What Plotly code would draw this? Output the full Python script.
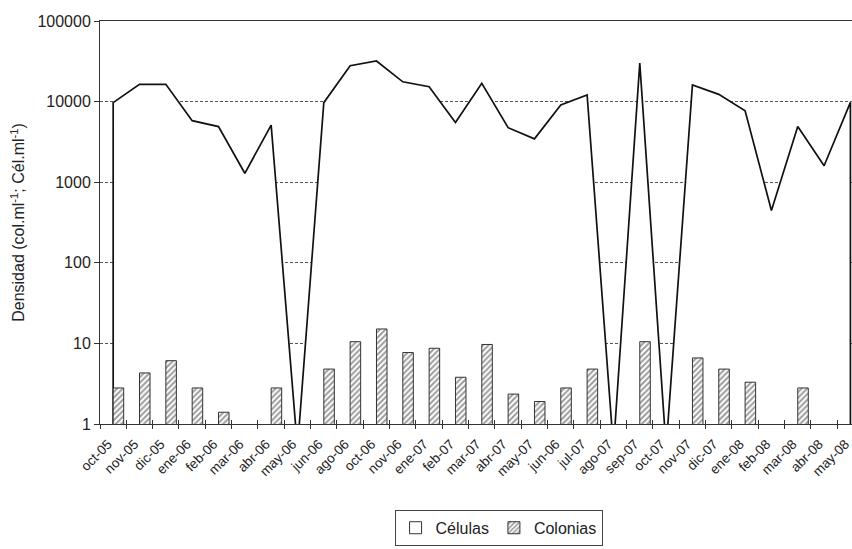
import plotly.graph_objects as go

# ---- data ----
meses = ["oct-05", "nov-05", "dic-05", "ene-06", "feb-06", "mar-06", "abr-06", "may-06",
         "jun-06", "ago-06", "oct-06", "nov-06", "ene-07", "feb-07", "mar-07", "abr-07",
         "may-07", "jun-06", "jul-07", "ago-07", "sep-07", "oct-07", "nov-07", "dic-07",
         "ene-08", "feb-08", "mar-08", "abr-08", "may-08"]

celulas = [9700, 16400, 16400, 5800, 4900, 1290, 5100, 0,
           9700, 27900, 31900, 17600, 15300, 5500, 16900, 4750,
           3450, 9100, 12100, 0, 30000, 0, 16100, 12300,
           7700, 445, 4900, 1600, 9800]

colonias = [2.8, 4.3, 6.1, 2.8, 1.4, 0, 2.8, 0,
            4.8, 10.5, 15.1, 7.7, 8.7, 3.8, 9.7, 2.35,
            1.9, 2.8, 4.8, 0, 10.5, 0, 6.6, 4.8,
            3.3, 0, 2.8, 0, 0]

y_ticks = [1, 10, 100, 1000, 10000, 100000]
y_ticktext = ["1", "10", "100", "1000", "10000", "100000"]

FLOOR = 0.5  # where zero values are drawn on the log scale (below the axis)

idx = list(range(len(meses)))
cel_plot = [v if v > 0 else FLOOR for v in celulas]
area_x = [idx[0]] + idx + [idx[-1]]
area_y = [FLOOR] + cel_plot + [FLOOR]
col_plot = [v if v > 0 else None for v in colonias]
bounds = [i - 0.5 for i in idx] + [idx[-1] + 0.5]

FONT = "Liberation Sans, Arial, sans-serif"

fig = go.Figure()

# Células as a white-filled area (hides the gridlines beneath it)
fig.add_trace(go.Scatter(
    x=area_x, y=area_y, mode="lines", fill="toself", fillcolor="white",
    line=dict(color="#111111", width=1.7), showlegend=False, hoverinfo="skip",
    xaxis="x", yaxis="y"))

# legend swatch for Células
fig.add_trace(go.Bar(
    x=idx, y=[None] * len(idx), name="Células",
    marker=dict(color="white", line=dict(color="#333333", width=1)),
    xaxis="x2", yaxis="y"))

# Colonias bars (hatched)
fig.add_trace(go.Bar(
    x=idx, y=col_plot, name="Colonias", width=0.4,
    marker=dict(color="white", line=dict(color="#333333", width=1),
                pattern=dict(shape="/", fgcolor="#3a3a3a", bgcolor="white",
                             size=4, solidity=0.5)),
    xaxis="x2", yaxis="y"))

xr = [-0.5, 28.06]

fig.update_layout(
    width=852, height=549,
    margin=dict(l=100, r=0, t=21, b=125),
    paper_bgcolor="white", plot_bgcolor="white",
    font=dict(family=FONT, size=16, color="#222222"),
    showlegend=True,
    legend=dict(orientation="h", x=0.53, xanchor="center", y=-0.213, yanchor="top",
                bordercolor="#444444", borderwidth=1, font=dict(size=16),
                traceorder="normal"),
    xaxis=dict(
        range=xr, tickmode="array", tickvals=idx, ticktext=meses,
        tickangle=-45, tickfont=dict(size=13.5), ticks="", automargin=False,
        ticklabelstandoff=6, ticklabelshift=-5, ticklabeloverflow="allow",
        showgrid=False, zeroline=False,
        showline=True, linecolor="#333333", linewidth=1, mirror=True,
        minor=dict(tickmode="array", tickvals=bounds, ticks="outside",
                   ticklen=4, tickcolor="#333333", tickwidth=1, showgrid=False),
    ),
    xaxis2=dict(
        range=xr, overlaying="x", anchor="y", tickmode="array", tickvals=bounds,
        ticks="inside", ticklen=4, tickcolor="#333333", showticklabels=False,
        showgrid=False, zeroline=False, showline=False, automargin=False,
    ),
    yaxis=dict(
        type="log", range=[0, 5], tickmode="array", tickvals=y_ticks,
        ticktext=y_ticktext, ticks="outside", ticklen=5, tickcolor="#333333",
        tickfont=dict(size=16), automargin=False,
        showline=True, linecolor="#333333", linewidth=1,
        showgrid=True, gridcolor="#555555", gridwidth=1, griddash="3px,2px",
        zeroline=False,
        title=dict(text="Densidad (col.ml<sup>-1</sup>; Cél.ml<sup>-1</sup>)",
                   font=dict(size=16), standoff=8),
    ),
)

fig.write_html(
    "out.html",
    config={"displayModeBar": False},
    post_script="document.body.style.margin='0';document.body.style.overflow='hidden';",
)
